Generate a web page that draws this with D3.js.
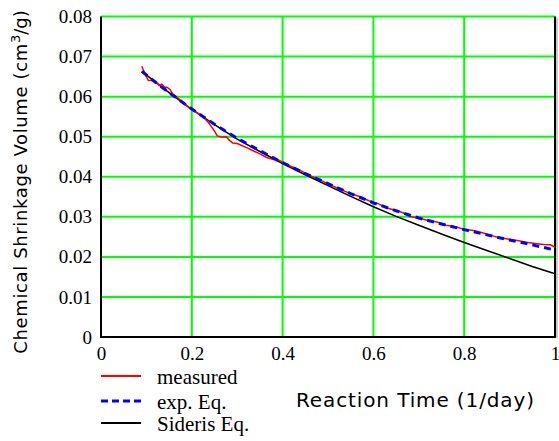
<!DOCTYPE html>
<html>
<head>
<meta charset="utf-8">
<script src="https://cdn.jsdelivr.net/npm/d3@7"></script>
<style>
	body { margin: 0; background: #fff; }
	svg { display: block; }
</style>
</head>
<body>
<svg id="chart" width="559" height="441"></svg>
<script>
// reaction time (1/day) and shrinkage volume (cm3/g)
var measuredT = [0.090, 0.092, 0.096, 0.100, 0.104, 0.110, 0.116, 0.122, 0.128, 0.134, 0.140, 0.146,
	0.152, 0.158, 0.164, 0.170, 0.178, 0.186, 0.194, 0.200, 0.206, 0.212, 0.220, 0.228,
	0.236, 0.244, 0.250, 0.256, 0.266, 0.276, 0.282, 0.290, 0.300, 0.310, 0.322, 0.335,
	0.350, 0.365, 0.380, 0.392, 0.405, 0.420, 0.435, 0.450, 0.470, 0.490, 0.510, 0.530,
	0.550, 0.570, 0.590, 0.610, 0.630, 0.650, 0.665, 0.680, 0.700, 0.720, 0.740, 0.760,
	0.780, 0.800, 0.820, 0.840, 0.860, 0.880, 0.900, 0.920, 0.940, 0.960, 0.975, 0.990,
	1.000];
var measuredV = [0.0676, 0.0670, 0.0660, 0.0650, 0.0641, 0.0640, 0.0641, 0.0636, 0.0628, 0.0631, 0.0624, 0.0623,
	0.0618, 0.0606, 0.0602, 0.0596, 0.0588, 0.0580, 0.0572, 0.0571, 0.0563, 0.0560, 0.0553, 0.0546,
	0.0536, 0.0524, 0.0514, 0.0502, 0.0499, 0.0500, 0.0492, 0.0484, 0.0483, 0.0478, 0.0472, 0.0465,
	0.0457, 0.0448, 0.0443, 0.0441, 0.0433, 0.0425, 0.0418, 0.0409, 0.0398, 0.0388, 0.0377, 0.0367,
	0.0358, 0.0350, 0.0340, 0.0333, 0.0322, 0.0316, 0.0310, 0.0301, 0.0297, 0.0291, 0.0287, 0.0279,
	0.0275, 0.0269, 0.0266, 0.0260, 0.0253, 0.0247, 0.0244, 0.0240, 0.0236, 0.0233, 0.0231, 0.0230,
	0.0224];

var expT = [0.09, 0.12, 0.15, 0.20, 0.25, 0.30, 0.35, 0.40, 0.45, 0.50, 0.55, 0.60, 0.65,
	0.70, 0.75, 0.80, 0.85, 0.90, 0.95, 1.00];
var expV = [0.0663, 0.0636, 0.0610, 0.0569, 0.0531, 0.0496, 0.0465, 0.0435, 0.0408, 0.0383, 0.0358, 0.0335, 0.0315,
	0.0297, 0.0282, 0.0268, 0.0255, 0.0242, 0.0230, 0.0217];

var siderisT = [0.09, 0.12, 0.15, 0.20, 0.25, 0.30, 0.35, 0.40, 0.45, 0.50, 0.55, 0.60, 0.65,
	0.70, 0.75, 0.80, 0.85, 0.90, 0.95, 1.00];
var siderisV = [0.0663, 0.0636, 0.0610, 0.0568, 0.0530, 0.0494, 0.0463, 0.0433, 0.0405, 0.0378, 0.0351, 0.0325, 0.0301,
	0.0279, 0.0257, 0.0236, 0.0216, 0.0196, 0.0176, 0.0158];

var xTicks = [0, 0.2, 0.4, 0.6, 0.8, 1];
var yTicks = [0, 0.01, 0.02, 0.03, 0.04, 0.05, 0.06, 0.07, 0.08];
var xTickLabels = ['0', '0.2', '0.4', '0.6', '0.8', '1'];
var yTickLabels = ['0', '0.01', '0.02', '0.03', '0.04', '0.05', '0.06', '0.07', '0.08'];

var legendNames = ['measured', 'exp. Eq.', 'Sideris Eq.'];

function zip(ts, vs) {
	return ts.map(function(t, i) { return [t, vs[i]]; });
}

function main() {
	var svg = d3.select('#chart');
	var x = d3.scaleLinear().domain([0, 1]).range([101, 555]);
	var y = d3.scaleLinear().domain([0, 0.08]).range([337, 16.5]);

	// green grid
	var grid = svg.append('g').attr('stroke', '#00ff00').attr('stroke-width', 2);
	grid.selectAll('line.h').data(yTicks.slice(1)).enter().append('line')
		.attr('x1', x(0)).attr('x2', x(1))
		.attr('y1', function(d) { return y(d); })
		.attr('y2', function(d) { return y(d); });
	grid.selectAll('line.v').data(xTicks.slice(1, -1)).enter().append('line')
		.attr('x1', function(d) { return x(d); })
		.attr('x2', function(d) { return x(d); })
		.attr('y1', y(0.08)).attr('y2', y(0));

	// frame: left, bottom, right in black (top is the green 0.08 line)
	var frame = svg.append('g').attr('stroke', '#000').attr('stroke-width', 2).attr('fill', 'none');
	frame.append('path').attr('d', 'M' + x(0) + ',' + y(0.08) + 'V' + y(0) + 'H' + x(1) + 'V' + y(0.08));
	svg.append('line').attr('x1', x(1) + 2).attr('x2', x(1) + 2).attr('y1', y(0.08) + 1).attr('y2', y(0) + 1)
		.attr('stroke', '#999').attr('stroke-width', 1);

	// tick labels through the axis generators, lines hidden
	var yAxis = d3.axisLeft(y).tickValues(yTicks).tickSize(0).tickPadding(9)
		.tickFormat(function(d, i) { return yTickLabels[i]; });
	var gy = svg.append('g').attr('transform', 'translate(' + x(0) + ',0)').call(yAxis);
	gy.select('.domain').remove();
	gy.selectAll('text').attr('font-family', 'Liberation Serif').attr('font-size', 19).attr('fill', '#000');

	var xAxis = d3.axisBottom(x).tickValues(xTicks).tickSize(0).tickPadding(10)
		.tickFormat(function(d, i) { return xTickLabels[i]; });
	var gx = svg.append('g').attr('transform', 'translate(0,' + y(0) + ')').call(xAxis);
	gx.select('.domain').remove();
	gx.selectAll('text').attr('font-family', 'Liberation Serif').attr('font-size', 19).attr('fill', '#000');

	// series
	var line = d3.line().x(function(d) { return x(d[0]); }).y(function(d) { return y(d[1]); });
	svg.append('path').datum(zip(siderisT, siderisV)).attr('d', line)
		.attr('fill', 'none').attr('stroke', '#000').attr('stroke-width', 1.5);
	svg.append('path').datum(zip(measuredT, measuredV)).attr('d', line)
		.attr('fill', 'none').attr('stroke', '#ff0000').attr('stroke-width', 1.5);
	svg.append('path').datum(zip(expT, expV)).attr('d', line)
		.attr('fill', 'none').attr('stroke', '#0000ff').attr('stroke-width', 3)
		.attr('stroke-dasharray', '7,5');

	// axis titles
	svg.append('text').attr('x', 296).attr('y', 407)
		.attr('font-family', 'DejaVu Sans').attr('font-size', 20).attr('fill', '#000')
		.attr('textLength', 238).attr('lengthAdjust', 'spacing')
		.text('Reaction Time (1/day)');

	var yt = svg.append('text').attr('transform', 'translate(27,182) rotate(-90)')
		.attr('text-anchor', 'middle')
		.attr('font-family', 'DejaVu Sans').attr('font-size', 18).attr('fill', '#000');
	yt.append('tspan').attr('textLength', 310).attr('lengthAdjust', 'spacing')
		.text('Chemical Shrinkage Volume (cm');
	yt.append('tspan').attr('dy', -7).attr('font-size', 13).text('3');
	yt.append('tspan').attr('dy', 7).text('/g)');

	// legend
	var legendColors = ['#ff0000', '#0000ff', '#000'];
	var legendDash = [null, '7,4', null];
	var legendWidth = [2, 3, 2];
	var legendY = [376, 401, 423];
	var lg = svg.append('g');
	lg.selectAll('line').data(legendNames).enter().append('line')
		.attr('x1', 101).attr('x2', 141)
		.attr('y1', function(d, i) { return legendY[i]; })
		.attr('y2', function(d, i) { return legendY[i]; })
		.attr('stroke', function(d, i) { return legendColors[i]; })
		.attr('stroke-width', function(d, i) { return legendWidth[i]; })
		.attr('stroke-dasharray', function(d, i) { return legendDash[i]; });
	lg.selectAll('text').data(legendNames).enter().append('text')
		.attr('x', 157)
		.attr('y', function(d, i) { return legendY[i] + 8; })
		.attr('font-family', 'Liberation Serif').attr('font-size', 21).attr('fill', '#000')
		.text(function(d) { return d; });
}

main();
</script>
</body>
</html>
